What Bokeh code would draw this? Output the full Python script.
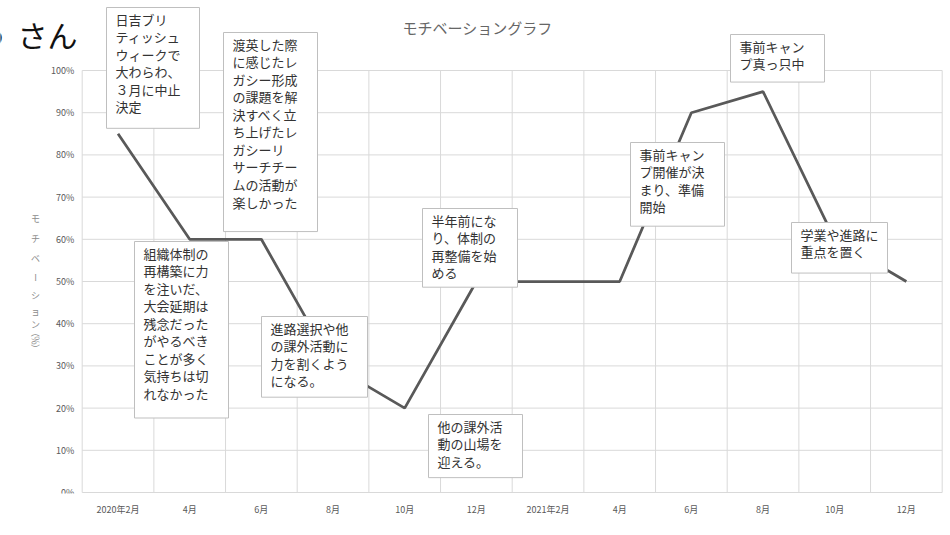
import math
from bokeh.plotting import figure
from bokeh.models import Range1d, FixedTicker, PrintfTickFormatter, Label, LinearAxis
from bokeh.embed import file_html
from bokeh.resources import INLINE

# ---- data ----
categories = ["2020年2月", "4月", "6月", "8月", "10月", "12月",
              "2021年2月", "4月", "6月", "8月", "10月", "12月"]
motivation = [85, 60, 60, 30, 20, 50, 50, 50, 90, 95, 60, 50]
y_ticks = [0, 10, 20, 30, 40, 50, 60, 70, 80, 90, 100]
title_text = "モチベーショングラフ"
y_title_chars = ["モ", "チ", "ベ", "ー", "シ", "ョ", "ン", "（", "％", "）"]
notes = [
    ["日吉ブリ", "ティッシュ", "ウィークで", "大わらわ、", "３月に中止", "決定"],
    ["渡英した際", "に感じたレ", "ガシー形成", "の課題を解", "決すべく立", "ち上げたレ",
     "ガシーリ", "サーチチー", "ムの活動が", "楽しかった"],
    ["組織体制の", "再構築に力", "を注いだ、", "大会延期は", "残念だった", "がやるべき",
     "ことが多く", "気持ちは切", "れなかった"],
    ["進路選択や他", "の課外活動に", "力を割くよう", "になる。"],
    ["半年前にな", "り、体制の", "再整備を始", "める"],
    ["他の課外活", "動の山場を", "迎える。"],
    ["事前キャン", "プ開催が決", "まり、準備", "開始"],
    ["事前キャン", "プ真っ只中"],
    ["学業や進路に", "重点を置く"],
]

# ---- layout (page pixels) ----
W, H = 950, 535
MB = 42                       # space under the frame for the month labels
GX0, GX1 = 81.7, 941.7        # plot-area left / right
GY0, GY1 = 70.0, 492.0        # 100% line / 0% line
FONT = "Noto Sans CJK JP"
n = len(categories)
ppx = (GX1 - GX0) / n
ppy = (GY1 - GY0) / 100.0
frame_bottom = H - MB

def dx(px):
    return (px - GX0) / ppx

def dy(py):
    return (GY1 - py) / ppy

p = figure(width=W, height=H,
           x_range=Range1d(dx(0), dx(W)), y_range=Range1d(dy(frame_bottom), dy(0)),
           output_backend="svg", toolbar_location=None, y_axis_location=None,
           min_border_left=0, min_border_right=0, min_border_top=0,
           min_border_bottom=MB)
p.outline_line_color = None
p.background_fill_color = "white"
p.border_fill_color = "white"
p.xgrid.visible = False
p.ygrid.visible = False

# grid lines, limited to the plot area
p.segment(x0=[0] * len(y_ticks), x1=[n] * len(y_ticks), y0=y_ticks, y1=y_ticks,
          line_color="#D9D9D9", line_width=1)
p.segment(x0=list(range(n + 1)), x1=list(range(n + 1)),
          y0=[0] * (n + 1), y1=[100] * (n + 1),
          line_color="#D9D9D9", line_width=1)

xs = [i + 0.5 for i in range(n)]
p.xaxis.ticker = FixedTicker(ticks=xs)
p.xaxis.major_label_overrides = {x: c for x, c in zip(xs, categories)}
p.xaxis.major_label_standoff = 9

yax = LinearAxis(fixed_location=0, ticker=FixedTicker(ticks=y_ticks),
                 formatter=PrintfTickFormatter(format="%d%%"),
                 major_label_standoff=8)
p.add_layout(yax, "left")
for ax in (p.xaxis[0], yax):
    ax.axis_line_color = None
    ax.major_tick_line_color = None
    ax.minor_tick_line_color = None
    ax.major_tick_out = 0
    ax.major_tick_in = 0
    ax.minor_tick_out = 0
    ax.minor_tick_in = 0
    ax.major_label_text_font = FONT
    ax.major_label_text_font_size = "9px"
    ax.major_label_text_color = "#595959"

p.line(xs, motivation, line_color="#595959", line_width=2.75)

# title
p.add_layout(Label(x=dx(477), y=dy(27), text=title_text, text_font=FONT,
                   text_font_size="15px", text_color="#666666",
                   text_align="center", text_baseline="middle"))
# big name text (cut off at the left edge in the source)
p.add_layout(Label(x=dx(-23), y=dy(33), text="う", text_font=FONT,
                   text_font_size="30px", text_color="#111111",
                   text_align="left", text_baseline="middle"))
p.add_layout(Label(x=dx(17), y=dy(33), text="さん", text_font=FONT,
                   text_font_size="30px", text_color="#111111",
                   text_align="left", text_baseline="middle"))

# stacked y-axis title
y_title_pos = [218, 238, 258, 277, 295, 311, 324, 332, 340, 348]
rotated = {"ー", "（", "％", "）"}
for ch, py in zip(y_title_chars, y_title_pos):
    p.add_layout(Label(x=dx(35), y=dy(py), text=ch, text_font=FONT,
                       text_font_size="9px", text_color="#8C8C8C",
                       text_align="center", text_baseline="middle",
                       angle=(-math.pi / 2 if ch in rotated else 0)))

# callout boxes: left, top, right, bottom in page px
boxes = [
    (106, 7, 199, 127),
    (223, 32, 317, 229),
    (134, 241, 228, 416),
    (261, 316, 367, 396),
    (422, 208, 517, 286),
    (428, 414, 522, 477),
    (630, 142, 724, 225),
    (730, 34, 824, 81),
    (791, 222, 887, 272),
]
FS = 13
FH = 1.448 * FS          # font box height
STEP = 17.4              # line spacing in the source
LH = STEP / FH
for lines, (l, t, r, b) in zip(notes, boxes):
    tw = max(len(s) for s in lines) * FS
    th = (len(lines) - 1) * STEP + FH
    pl = 9
    pr = max(int(round((r - l) - pl - tw)), 0)
    pt = 2
    pb = max(int(round((b - t) - pt - th)), 0)
    p.add_layout(Label(x=dx(l), y=dy(t), text="\n".join(lines), text_font=FONT,
                       text_font_size=f"{FS}px", text_color="#333333",
                       text_line_height=LH, anchor="top_left",
                       text_align="left", text_baseline="top",
                       background_fill_color="white",
                       border_line_color="#BFBFBF", border_line_width=1,
                       padding=dict(left=pl, right=pr, top=pt, bottom=pb)))

open("out.html", "w").write(file_html(p, INLINE))
